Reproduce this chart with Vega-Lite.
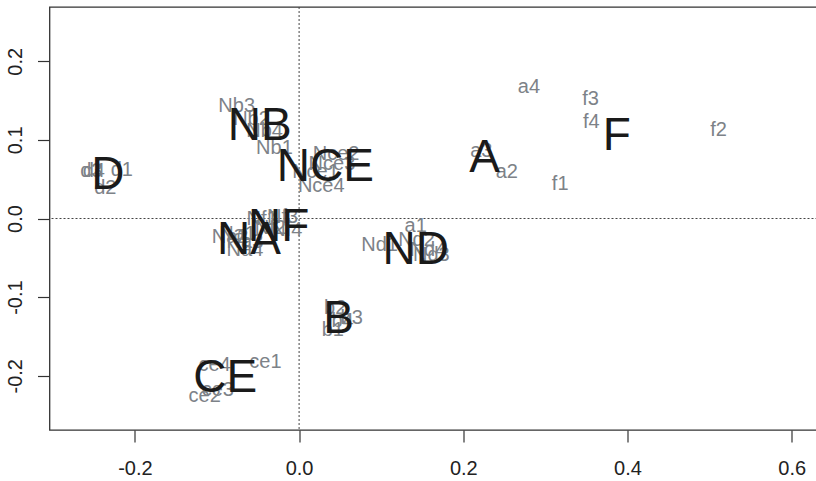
{
  "$schema": "https://vega.github.io/schema/vega-lite/v6.json",
  "autosize": "none",
  "width": 780,
  "height": 423,
  "padding": {"left": 49.5, "top": 7, "right": 0, "bottom": 51},
  "background": "white",
  "config": {
    "view": {"stroke": "#333333", "strokeWidth": 1.3},
    "font": "Liberation Sans, Arial",
    "axis": {"grid": false, "domain": false, "tickColor": "#333333", "tickSize": 12, "tickWidth": 1.2, "labelColor": "#222222", "labelFontSize": 20, "labelFont": "Liberation Sans, Arial", "title": null}
  },
  "datasets": {
    "cols": [
      {"label": "a1", "x": 0.142, "y": -0.009},
      {"label": "a2", "x": 0.253, "y": 0.059},
      {"label": "a3", "x": 0.222, "y": 0.086},
      {"label": "a4", "x": 0.280, "y": 0.167},
      {"label": "f1", "x": 0.318, "y": 0.044},
      {"label": "f2", "x": 0.511, "y": 0.113},
      {"label": "f3", "x": 0.355, "y": 0.152},
      {"label": "f4", "x": 0.356, "y": 0.123},
      {"label": "b1", "x": 0.041, "y": -0.142},
      {"label": "b2", "x": 0.044, "y": -0.114},
      {"label": "b3", "x": 0.064, "y": -0.127},
      {"label": "b4", "x": 0.053, "y": -0.130},
      {"label": "ce1", "x": -0.041, "y": -0.183},
      {"label": "ce2", "x": -0.115, "y": -0.226},
      {"label": "ce3", "x": -0.099, "y": -0.218},
      {"label": "ce4", "x": -0.103, "y": -0.186},
      {"label": "d1", "x": -0.216, "y": 0.062},
      {"label": "d2", "x": -0.236, "y": 0.039},
      {"label": "d3", "x": -0.253, "y": 0.060},
      {"label": "d4", "x": -0.250, "y": 0.060},
      {"label": "Na1", "x": -0.075, "y": -0.020},
      {"label": "Na2", "x": -0.084, "y": -0.024},
      {"label": "Na3", "x": -0.066, "y": -0.030},
      {"label": "Na4", "x": -0.066, "y": -0.040},
      {"label": "Nb1", "x": -0.030, "y": 0.090},
      {"label": "Nb2", "x": -0.058, "y": 0.127},
      {"label": "Nb3", "x": -0.076, "y": 0.143},
      {"label": "Nb4", "x": -0.042, "y": 0.111},
      {"label": "Nce1", "x": 0.020, "y": 0.059},
      {"label": "Nce2", "x": 0.045, "y": 0.082},
      {"label": "Nce3", "x": 0.040, "y": 0.069},
      {"label": "Nce4", "x": 0.027, "y": 0.041},
      {"label": "Nd1", "x": 0.098, "y": -0.034},
      {"label": "Nd2", "x": 0.143, "y": -0.027},
      {"label": "Nd3", "x": 0.161, "y": -0.046},
      {"label": "Nd4", "x": 0.157, "y": -0.040},
      {"label": "Nf1", "x": -0.045, "y": 0.000},
      {"label": "Nf2", "x": -0.035, "y": -0.012},
      {"label": "Nf3", "x": -0.020, "y": 0.002},
      {"label": "Nf4", "x": -0.015, "y": -0.015}
    ],
    "rows": [
      {"label": "D", "x": -0.233, "y": 0.055},
      {"label": "NB", "x": -0.048, "y": 0.118},
      {"label": "NCE", "x": 0.032, "y": 0.066},
      {"label": "A", "x": 0.226, "y": 0.077},
      {"label": "F", "x": 0.387, "y": 0.105},
      {"label": "NA", "x": -0.061, "y": -0.027},
      {"label": "NF", "x": -0.025, "y": -0.011},
      {"label": "ND", "x": 0.142, "y": -0.040},
      {"label": "B", "x": 0.048, "y": -0.128},
      {"label": "CE", "x": -0.090, "y": -0.203}
    ],
    "zero": [{"v": 0}]
  },
  "layer": [
    {
      "data": {"name": "zero"},
      "mark": {"type": "rule", "color": "#444444", "strokeWidth": 1, "strokeDash": [2, 2]},
      "encoding": {"x": {"field": "v", "type": "quantitative", "scale": {"domain": [-0.304, 0.646], "nice": false, "zero": false}}}
    },
    {
      "data": {"name": "zero"},
      "mark": {"type": "rule", "color": "#444444", "strokeWidth": 1, "strokeDash": [2, 2]},
      "encoding": {"y": {"field": "v", "type": "quantitative", "scale": {"domain": [-0.269, 0.269], "nice": false, "zero": false}}}
    },
    {
      "data": {"name": "cols"},
      "mark": {"type": "text", "fontSize": 20, "color": "#7d8288", "align": "center", "baseline": "middle"},
      "encoding": {
        "x": {"field": "x", "type": "quantitative"},
        "y": {"field": "y", "type": "quantitative"},
        "text": {"field": "label"}
      }
    },
    {
      "data": {"name": "rows"},
      "mark": {"type": "text", "fontSize": 46, "color": "#1a1a1a", "align": "center", "baseline": "middle"},
      "encoding": {
        "x": {"field": "x", "type": "quantitative", "scale": {"domain": [-0.304, 0.646], "nice": false, "zero": false},
          "axis": {"values": [-0.2, 0, 0.2, 0.4, 0.6], "labelExpr": "replace(format(datum.value, '.1f'), '\u2212', '-')", "labelPadding": 16}},
        "y": {"field": "y", "type": "quantitative", "scale": {"domain": [-0.269, 0.269], "nice": false, "zero": false},
          "axis": {"values": [-0.2, -0.1, 0, 0.1, 0.2], "labelExpr": "replace(format(datum.value, '.1f'), '\u2212', '-')", "labelAngle": -90, "labelAlign": "center", "labelBaseline": "bottom", "labelPadding": 12}},
        "text": {"field": "label"}
      }
    }
  ]
}
